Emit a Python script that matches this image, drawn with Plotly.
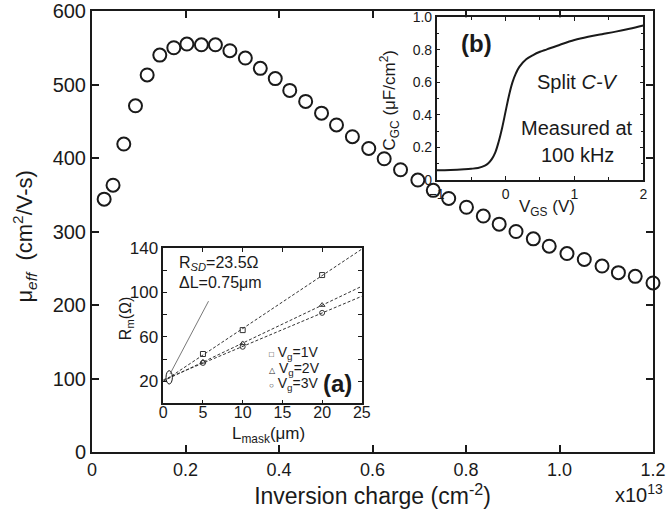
import numpy as np
import plotly.graph_objects as go

# ---------------- data ----------------
# main: effective mobility vs inversion charge (x in units of 1e13 cm^-2)
inv_charge = [0.026, 0.045, 0.068, 0.093, 0.118, 0.145, 0.175, 0.203, 0.234, 0.264,
              0.295, 0.328, 0.360, 0.392, 0.423, 0.457, 0.491, 0.523, 0.557, 0.592,
              0.625, 0.660, 0.697, 0.730, 0.763, 0.801, 0.837, 0.871, 0.907, 0.944,
              0.978, 1.016, 1.053, 1.091, 1.126, 1.162, 1.200]
mu_eff = [344, 363, 419, 471, 513, 540, 550, 555, 554, 554,
          546, 536, 522, 508, 492, 477, 461, 445, 429, 413,
          399, 384, 370, 356, 345, 333, 321, 310, 300, 290,
          280, 270, 262, 253, 244, 239, 230]
main_xticks = [0, 0.2, 0.4, 0.6, 0.8, 1.0, 1.2]
main_xticklabels = ["0", "0.2", "0.4", "0.6", "0.8", "1.0", "1.2"]

# inset (a): R_m vs L_mask
l_mask = [5, 10, 20]
rm_vg1 = [44.5, 66.0, 115.5]
rm_vg2 = [37.5, 54.0, 88.5]
rm_vg3 = [36.5, 51.0, 81.5]
R_SD = 23.5
DELTA_L = 0.75
a_yticks = [0, 20, 40, 60, 80, 100, 120, 140]
a_yticklabels = ["", "20", "", "60", "", "100", "", "140"]

# inset (b): split C-V
v_gs = [-1.0, -0.8, -0.6, -0.5, -0.4, -0.3, -0.25, -0.2, -0.15, -0.1, -0.05, 0.0,
        0.05, 0.1, 0.15, 0.2, 0.3, 0.4, 0.5, 0.6, 0.8, 1.0, 1.2, 1.4, 1.6, 1.8, 2.0]
c_gc = [0.060, 0.062, 0.066, 0.069, 0.074, 0.088, 0.103, 0.128, 0.168, 0.235, 0.320, 0.420,
        0.520, 0.600, 0.655, 0.695, 0.742, 0.768, 0.788, 0.803, 0.833, 0.860, 0.880,
        0.896, 0.912, 0.930, 0.950]
b_yticks = [0, 0.2, 0.4, 0.6, 0.8, 1.0]
b_yticklabels = ["0", "0.2", "0.4", "0.6", "0.8", "1.0"]

FONT = "Liberation Sans, Arial, Helvetica, sans-serif"
INK = "#1a1a1a"
GREY = "#333333"

fig = go.Figure()

# main series
fig.add_trace(go.Scatter(
    x=inv_charge, y=mu_eff, mode="markers",
    marker=dict(symbol="circle-open", size=13, color=INK, line=dict(width=2, color=INK)),
    xaxis="x", yaxis="y", showlegend=False, cliponaxis=False))

# inset (a) fits and points
L_line = np.array([0.0, 25.0])
for vals, sym in [(rm_vg1, "square-open"), (rm_vg2, "triangle-up-open"), (rm_vg3, "circle-open")]:
    k, b = np.polyfit(l_mask, vals, 1)
    fig.add_trace(go.Scatter(x=L_line, y=k * L_line + b, mode="lines",
                             line=dict(color=GREY, width=1, dash="3px,2px"),
                             xaxis="x2", yaxis="y2", showlegend=False))
    fig.add_trace(go.Scatter(x=l_mask, y=vals, mode="markers",
                             marker=dict(symbol=sym, size=5, color=GREY, line=dict(width=1, color=GREY)),
                             xaxis="x2", yaxis="y2", showlegend=False))

# inset (b) curve
fig.add_trace(go.Scatter(x=v_gs, y=c_gc, mode="lines", line=dict(color=INK, width=2, shape="spline"),
                         xaxis="x3", yaxis="y3", showlegend=False))

axis_common = dict(showline=True, linecolor=INK, mirror="ticks", ticks="inside",
                   tickcolor=INK, showgrid=False, zeroline=False, automargin=False,
                   ticklabeloverflow="allow")

A_DOM_X = [0.127, 0.481]
A_DOM_Y = [0.110, 0.463]
B_DOM_X = [0.6144, 0.9827]
B_DOM_Y = [0.6168, 0.9857]

fig.update_layout(
    width=667, height=514,
    margin=dict(l=92, r=14, t=11, b=62),
    paper_bgcolor="white", plot_bgcolor="white",
    font=dict(family=FONT, color=INK),
    xaxis=dict(**axis_common, domain=[0, 1], range=[0, 1.2], tickvals=main_xticks,
               ticktext=main_xticklabels, ticklen=7, linewidth=2, tickwidth=1.5,
               tickfont=dict(size=18),
               title=dict(text="Inversion charge (cm<sup>-2</sup>)", font=dict(size=23), standoff=2)),
    yaxis=dict(**axis_common, domain=[0, 1], range=[0, 600], dtick=100, ticklen=7,
               linewidth=2, tickwidth=1.5, tickfont=dict(size=20)),
    xaxis2=dict(**axis_common, domain=A_DOM_X, anchor="y2", range=[0, 25], dtick=5, ticklen=4,
                linewidth=1.5, tickfont=dict(size=16), ticklabelstandoff=-6),
    yaxis2=dict(**axis_common, domain=A_DOM_Y, anchor="x2", range=[0, 140], tickvals=a_yticks,
                ticktext=a_yticklabels, ticklen=4, linewidth=1.5, tickfont=dict(size=17)),
    xaxis3=dict(**axis_common, domain=B_DOM_X, anchor="y3", range=[-1, 2], dtick=1, ticklen=4,
                linewidth=1.5, tickfont=dict(size=14),
                minor=dict(dtick=0.5, ticks="inside", ticklen=3, tickcolor=INK)),
    yaxis3=dict(**axis_common, domain=B_DOM_Y, anchor="x3", range=[0, 1.0], tickvals=b_yticks,
                ticktext=b_yticklabels, ticklen=4, linewidth=1.5, tickfont=dict(size=14),
                minor=dict(dtick=0.1, ticks="inside", ticklen=3, tickcolor=INK)),
)

# inset (a) shapes: ellipse marking the intersection and pointer line
fig.add_shape(type="circle", xref="x2", yref="y2",
              x0=DELTA_L - 0.4, x1=DELTA_L + 0.4, y0=R_SD - 6, y1=R_SD + 6,
              line=dict(color=INK, width=1))
fig.add_shape(type="line", xref="x2", yref="y2",
              x0=DELTA_L + 0.1, y0=R_SD + 3, x1=5.7, y1=92,
              line=dict(color="#555555", width=0.8))

ann = []
def txt(text, x, y, xref, yref, size, xanchor="left", yanchor="middle", angle=0):
    ann.append(dict(text=text, x=x, y=y, xref=xref, yref=yref, showarrow=False, textangle=angle,
                    font=dict(size=size, family=FONT, color=INK), xanchor=xanchor, yanchor=yanchor))

# axis titles placed as rotated / positioned text
txt("μ<sub><i>eff</i></sub>  (cm<sup>2</sup>/V-s)", -0.12, 0.49, "paper", "paper", 22,
    xanchor="center", angle=-90)
txt("x10<sup>13</sup>", 1.022, -0.093, "paper", "paper", 20, xanchor="right")
txt("L<sub>mask</sub>(μm)", 0.528, -0.2, "x2 domain", "y2 domain", 17, xanchor="center")
txt("R<sub>m</sub>(Ω)", -0.185, 0.545, "x2 domain", "y2 domain", 16, xanchor="center", angle=-90)
txt("V<sub>GS</sub> (V)", 0.535, -0.17, "x3 domain", "y3 domain", 17, xanchor="center")
txt("C<sub>GC</sub> (μF/cm<sup>2</sup>)", -0.23, 0.49, "x3 domain", "y3 domain", 17,
    xanchor="center", angle=-90)

# inset (a) text
txt("R<sub><i>SD</i></sub>=%.1fΩ" % R_SD, 0.0675, 0.90, "x2 domain", "y2 domain", 16)
txt("ΔL=%.2fμm" % DELTA_L, 0.0675, 0.78, "x2 domain", "y2 domain", 16)
SYM = '<span style="font-size:8px">%s</span> '
txt(SYM % "□" + "V<sub>g</sub>=1V", 0.52, 0.323, "x2 domain", "y2 domain", 14)
txt(SYM % "△" + "V<sub>g</sub>=2V", 0.52, 0.223, "x2 domain", "y2 domain", 14)
txt(SYM % "○" + "V<sub>g</sub>=3V", 0.52, 0.127, "x2 domain", "y2 domain", 14)
txt("<b>(a)</b>", 0.875, 0.13, "x2 domain", "y2 domain", 24, xanchor="center")

# inset (b) text
txt("<b>(b)</b>", 0.195, 0.842, "x3 domain", "y3 domain", 24, xanchor="center")
txt("Split <i>C-V</i>", 0.68, 0.602, "x3 domain", "y3 domain", 20, xanchor="center")
txt("Measured at", 0.68, 0.32, "x3 domain", "y3 domain", 20, xanchor="center")
txt("100 kHz", 0.68, 0.154, "x3 domain", "y3 domain", 20, xanchor="center")

fig.update_layout(annotations=ann)
# remove the browser's default 8px body margin so the figure fills the window exactly
fig.write_html("out.html", config={"displayModeBar": False},
               post_script="document.body.style.margin='0px';")
